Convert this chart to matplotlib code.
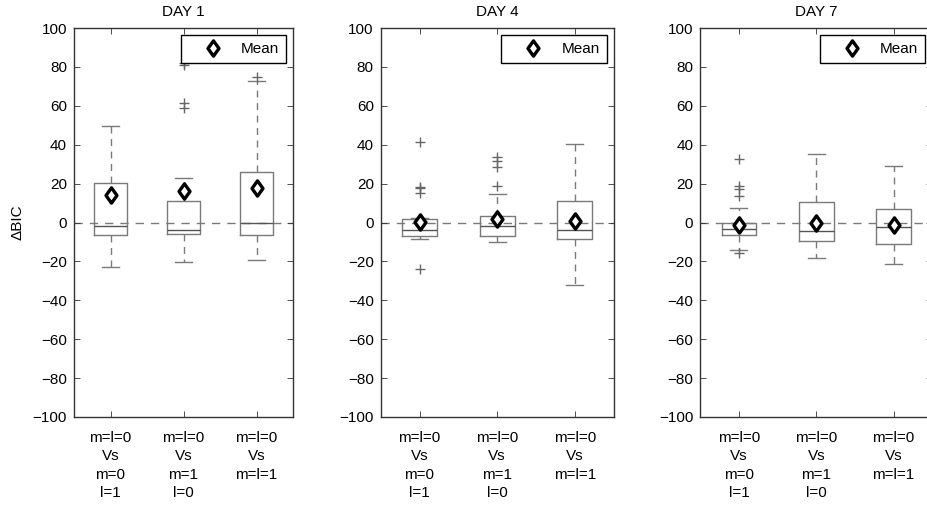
import matplotlib
matplotlib.use("Agg")
import matplotlib.pyplot as plt
from matplotlib.lines import Line2D
from matplotlib.path import Path

plt.rcParams['font.family'] = ['Liberation Sans', 'DejaVu Sans']

days = ["DAY 1", "DAY 4", "DAY 7"]
tick_labels = ["m=l=0\nVs\nm=0\nl=1", "m=l=0\nVs\nm=1\nl=0", "m=l=0\nVs\nm=l=1"]

# per day, per comparison
q1 = [[-6.2, -5.7, -6.2], [-6.7, -6.9, -8.4], [-6.4, -9.3, -11.3]]
med = [[-1.7, -4.0, -0.3], [-4.0, -1.7, -3.6], [-3.3, -4.6, -2.2]]
q3 = [[20.4, 10.8, 26.1], [1.9, 3.1, 11.3], [-0.3, 10.3, 6.7]]
whislo = [[-22.9, -20.2, -19.5], [-8.6, -10.1, -32.0], [-14.0, -18.3, -21.5]]
whishi = [[49.8, 22.9, 72.9], [2.5, 14.8, 40.2], [7.2, 35.1, 29.2]]
fliers = [
    [[], [58.8, 61.5, 80.8, 82.0], [74.7]],
    [[-23.8, 15.3, 17.6, 18.2, 41.6], [18.9, 28.4, 31.5, 33.5], []],
    [[-15.5, 13.4, 17.0, 18.6, 32.6], [], []],
]
means = [[14.1, 16.2, 17.9], [0.5, 1.9, 1.0], [-1.2, -0.3, -1.2]]

W, H = 928, 507
fig = plt.figure(figsize=(W / 100, H / 100), dpi=100)

axes_px = [(74, 293), (380.7, 613.7), (700.3, 932.3)]
top_px, bot_px = 28, 417

diamond = Path([(0, 1), (0.72, 0), (0, -1), (-0.72, 0), (0, 1)],
               [Path.MOVETO, Path.LINETO, Path.LINETO, Path.LINETO, Path.CLOSEPOLY])
MK = dict(marker=diamond, markersize=11, markerfacecolor="white",
          markeredgecolor="black", mew=2.4, linestyle="none")

FS = 11
gray = "#7a7a7a"
for d in range(3):
    l, r = axes_px[d]
    ax = fig.add_axes([l / W, 1 - bot_px / H, (r - l) / W, (bot_px - top_px) / H])
    stats = []
    for i in range(3):
        stats.append(dict(med=med[d][i], q1=q1[d][i], q3=q3[d][i],
                          whislo=whislo[d][i], whishi=whishi[d][i],
                          fliers=fliers[d][i], label=tick_labels[i]))
    ax.axhline(0, color=gray, lw=1.0, ls=(0, (6, 5)), zorder=1)
    ax.bxp(stats, positions=[1, 2, 3], widths=0.45, showfliers=True,
           boxprops=dict(color=gray, lw=1.0),
           medianprops=dict(color="#555555", lw=1.0),
           whiskerprops=dict(color=gray, lw=1.0, ls=(0, (5, 4))),
           capprops=dict(color=gray, lw=1.0),
           capwidths=0.22,
           flierprops=dict(marker="+", markeredgecolor="#666666", markersize=7, mew=1.0, linestyle="none"),
           manage_ticks=False, zorder=2)
    ax.plot([1, 2, 3], means[d], zorder=5, **MK)
    ax.set_xlim(0.5, 3.5)
    ax.set_ylim(-100, 100)
    ax.set_yticks(range(-100, 101, 20))
    ax.set_yticklabels([("\u2212" + str(-v)) if v < 0 else str(v) for v in range(-100, 101, 20)])
    ax.set_xticks([1, 2, 3])
    ax.set_xticklabels(tick_labels, linespacing=1.4)
    ax.tick_params(direction="in", top=True, right=True, length=4, width=0.6,
                   labelsize=FS, colors="#333333", labelcolor="black", pad=5)
    ax.tick_params(axis="x", pad=10)
    for s in ax.spines.values():
        s.set_color("#333333")
        s.set_linewidth(1.0)
    ax.set_title(days[d], fontsize=FS, pad=9)
    if d == 0:
        ax.set_ylabel("\u0394BIC", fontsize=FS, labelpad=6)
    h = Line2D([], [], **MK)
    leg = ax.legend([h], ["Mean"], loc="upper right", fancybox=False, framealpha=1,
                    edgecolor="black", fontsize=FS, borderaxespad=0.46,
                    handlelength=3.3, handletextpad=0.2, borderpad=0.45)
    leg.get_frame().set_linewidth(1.0)

fig.savefig("out.png", dpi=100)
